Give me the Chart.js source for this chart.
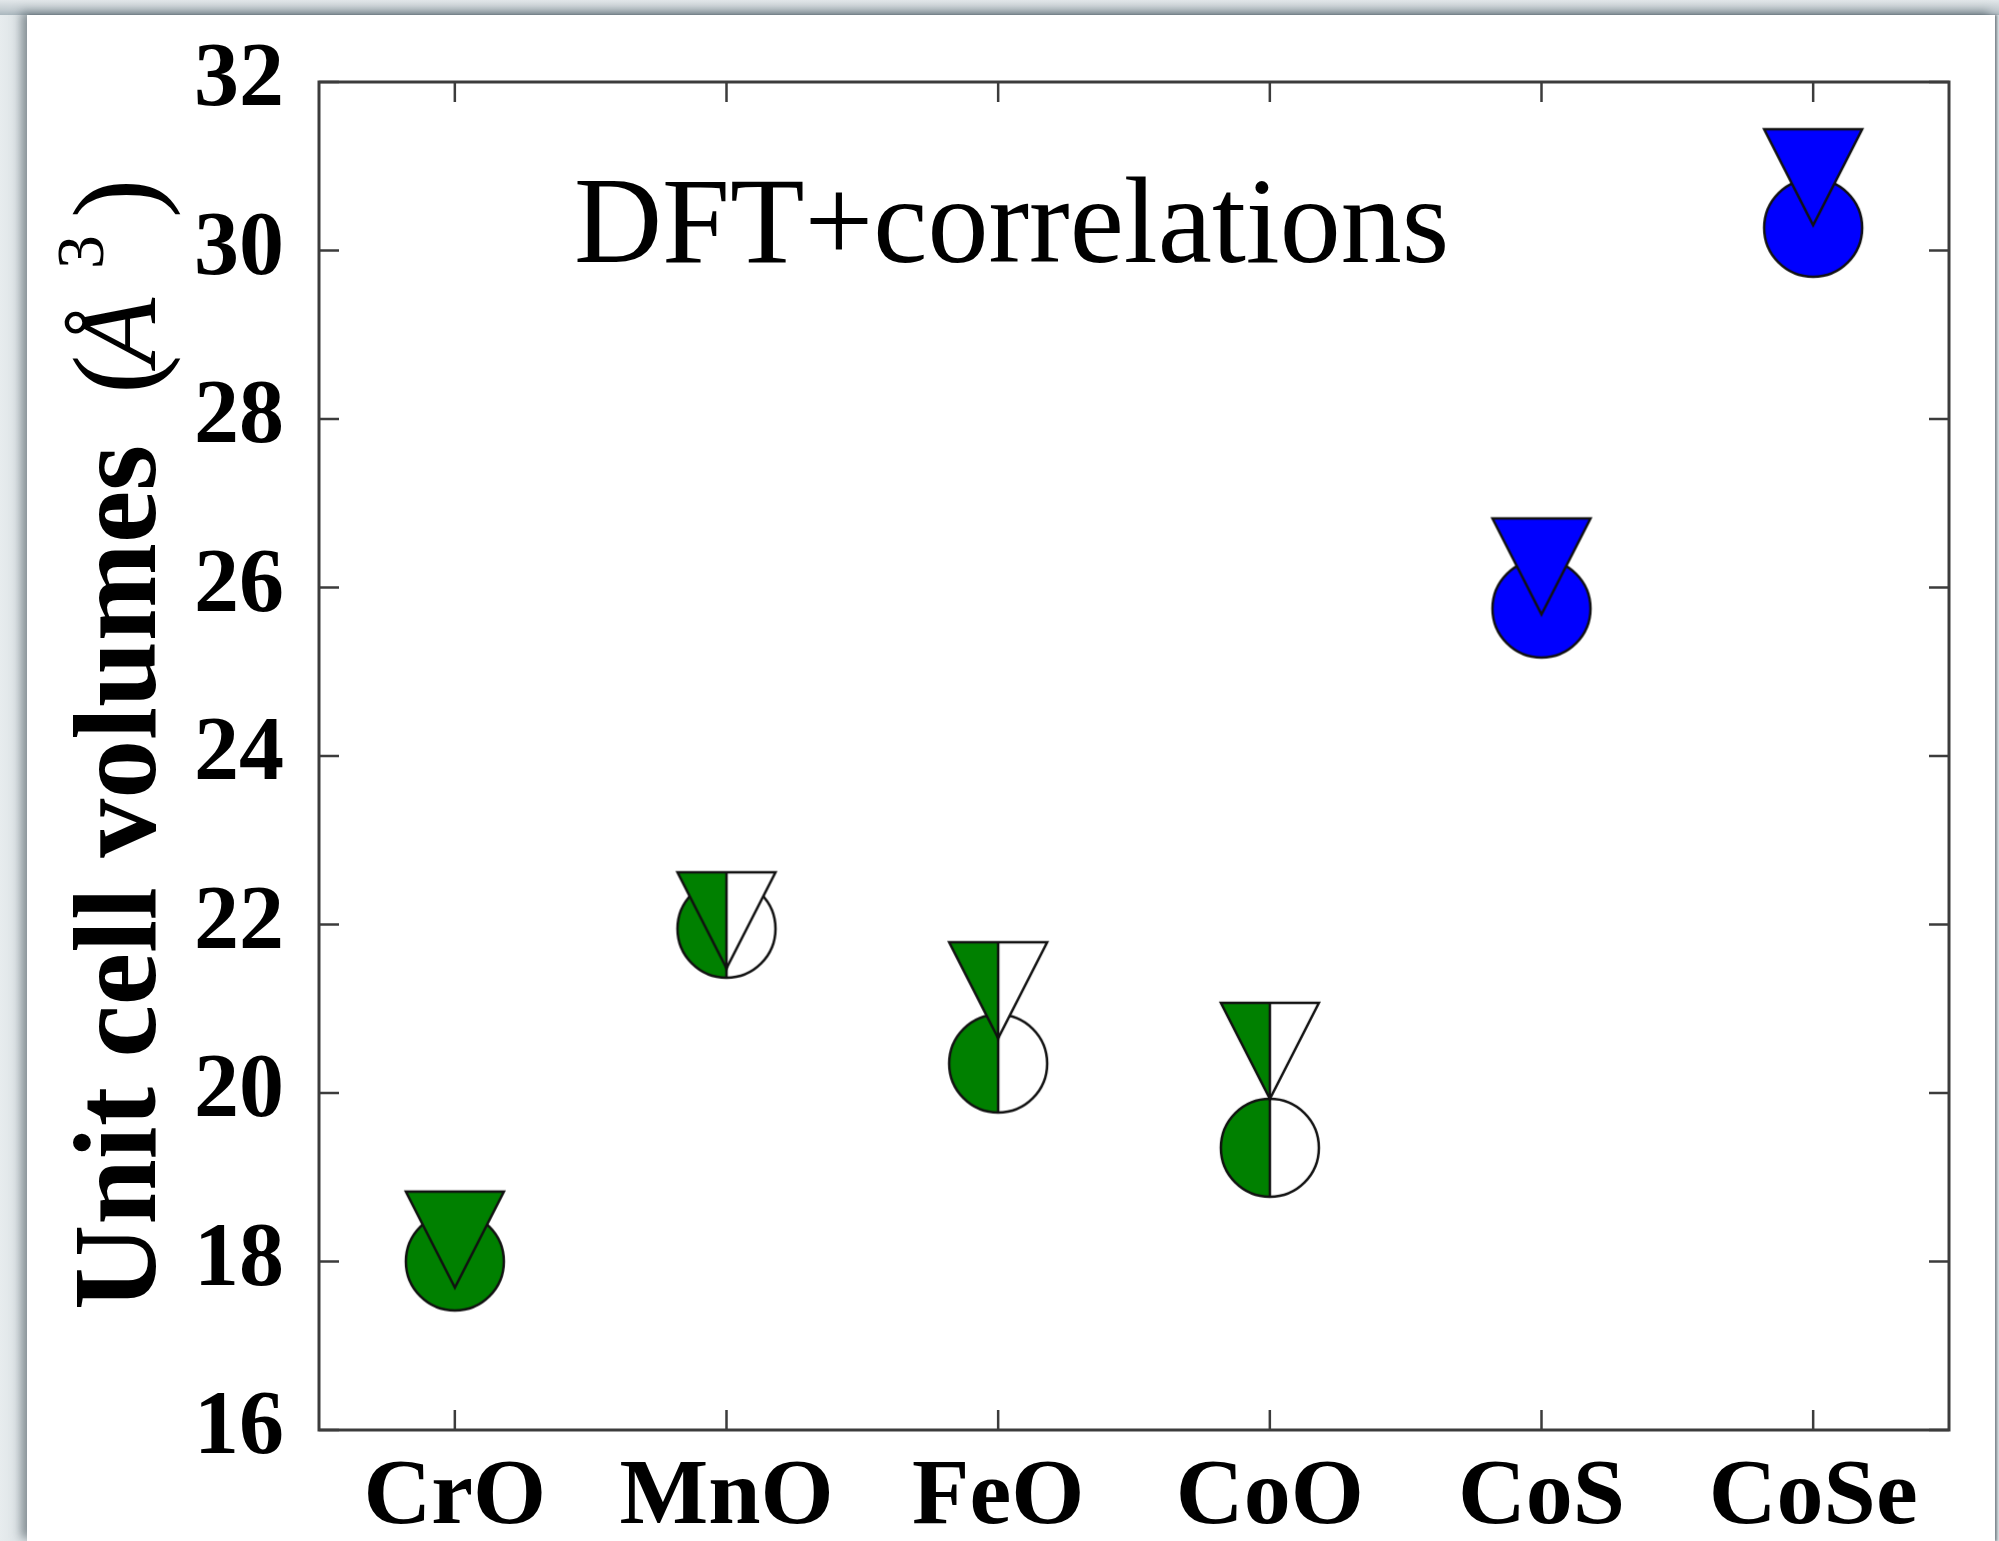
<!DOCTYPE html>
<html>
<head>
<meta charset="utf-8">
<title>Unit cell volumes</title>
<script src="https://cdn.jsdelivr.net/npm/chart.js@4.4.0/dist/chart.umd.min.js"></script>
<style>
  html, body { margin: 0; padding: 0; }
  body {
    width: 1999px; height: 1541px; overflow: hidden; position: relative;
    background:
      linear-gradient(to bottom, #e2e7ea 0px, #c3ccd1 10px, #a9b6bd 15px, rgba(0,0,0,0) 15px),
      linear-gradient(to right, #e7ecee 0px, #d9e0e3 27px, #d9e0e3 100%);
  }
  #sheet {
    position: absolute; left: 27px; top: 15px; width: 1968px; height: 1526px;
    background: #fff;
    box-shadow: -6px -3px 9px rgba(70, 82, 90, 0.55), 2px 0 2px rgba(70, 82, 90, 0.6);
  }
  #chart { position: absolute; left: 0; top: 0; }
</style>
</head>
<body>
<div id="sheet"></div>
<canvas id="chart" width="1999" height="1541"></canvas>
<script>
var categories = ['CrO', 'MnO', 'FeO', 'CoO', 'CoS', 'CoSe'];
var circleVolumes = [18.0, 21.95, 20.35, 19.35, 25.75, 30.27];
var triangleVolumes = [18.26, 22.05, 21.22, 20.5, 26.25, 30.87];
var halfFilled = [false, true, true, true, false, false];
var yTicks = [16, 18, 20, 22, 24, 26, 28, 30, 32];

var fillColors = ['#008000', '#008000', '#008000', '#008000', '#0000ff', '#0000ff'];

// marker drawn once into a small canvas, chart.js places it at the point
function makeMarker(shape, color, half) {
  var size = 106, m = size / 2, r = 49;
  var c = document.createElement('canvas');
  c.width = size; c.height = size;
  var g = c.getContext('2d');
  function outline() {
    g.beginPath();
    if (shape === 'circle') {
      g.arc(m, m, r, 0, Math.PI * 2);
    } else {
      g.moveTo(m - r, m - 48);
      g.lineTo(m + r, m - 48);
      g.lineTo(m, m + 48);
      g.closePath();
    }
  }
  outline();
  g.fillStyle = half ? '#fff' : color;
  g.fill();
  if (half) {
    g.save();
    outline();
    g.clip();
    g.fillStyle = color;
    g.fillRect(0, 0, m, size);
    g.restore();
  }
  g.lineWidth = 2.5;
  g.strokeStyle = '#111';
  outline();
  g.stroke();
  if (half) {
    g.beginPath();
    g.moveTo(m, shape === 'circle' ? m - r : m - 48);
    g.lineTo(m, shape === 'circle' ? m + r : m + 48);
    g.stroke();
  }
  return c;
}

var circleMarkers = [], triangleMarkers = [];
for (var i = 0; i < categories.length; i++) {
  circleMarkers.push(makeMarker('circle', fillColors[i], halfFilled[i]));
  triangleMarkers.push(makeMarker('triangle', fillColors[i], halfFilled[i]));
}

// box around the plot, inward ticks, y title and the inset text
var framePlugin = {
  id: 'frame',
  afterDraw: function (chart) {
    var ctx = chart.ctx, a = chart.chartArea;
    var xs = chart.scales.x, ys = chart.scales.y;
    var tl = 20;
    ctx.save();
    ctx.strokeStyle = '#3c3c3c';
    ctx.lineWidth = 3;
    ctx.strokeRect(a.left, a.top, a.right - a.left, a.bottom - a.top);
    ctx.lineWidth = 2.5;
    ctx.beginPath();
    for (var i = 0; i < xs.ticks.length; i++) {
      var px = xs.getPixelForTick(i);
      ctx.moveTo(px, a.bottom); ctx.lineTo(px, a.bottom - tl);
      ctx.moveTo(px, a.top); ctx.lineTo(px, a.top + tl);
    }
    for (var j = 0; j < ys.ticks.length; j++) {
      var py = ys.getPixelForValue(ys.ticks[j].value);
      ctx.moveTo(a.left, py); ctx.lineTo(a.left + tl, py);
      ctx.moveTo(a.right, py); ctx.lineTo(a.right - tl, py);
    }
    ctx.stroke();

    ctx.fillStyle = '#000';
    ctx.textBaseline = 'alphabetic';
    ctx.textAlign = 'left';
    ctx.font = '122px "Liberation Serif"';
    ctx.fillText('DFT+correlations', 574, 262);

    ctx.translate(a.left - 164, a.bottom - 120);
    ctx.rotate(-Math.PI / 2);
    ctx.font = 'bold 118px "Liberation Serif"';
    ctx.fillText('Unit cell volumes', 0, 0);
    ctx.font = '118px "Liberation Serif"';
    ctx.fillText('(', 916, 0);
    ctx.font = 'italic 110px "Liberation Serif"';
    ctx.fillText('\u00c5', 945, 0);
    ctx.font = '68px "Liberation Serif"';
    ctx.fillText('3', 1041, -52);
    ctx.font = '118px "Liberation Serif"';
    ctx.fillText(')', 1092, 0);
    ctx.restore();
  }
};

var tickFont = { family: 'Liberation Serif', weight: 'bold' };

new Chart(document.getElementById('chart'), {
  type: 'line',
  data: {
    labels: categories,
    datasets: [
      {
        label: 'triangles',
        data: triangleVolumes,
        order: 0,
        showLine: false,
        pointStyle: triangleMarkers,
        pointRadius: 49,
        pointHoverRadius: 49
      },
      {
        label: 'circles',
        data: circleVolumes,
        order: 1,
        showLine: false,
        pointStyle: circleMarkers,
        pointRadius: 49,
        pointHoverRadius: 49
      }
    ]
  },
  options: {
    responsive: false,
    animation: false,
    events: [],
    layout: { padding: { left: 0, top: 82, right: 50, bottom: 0 } },
    plugins: {
      legend: { display: false },
      tooltip: { enabled: false }
    },
    scales: {
      x: {
        type: 'category',
        offset: true,
        grid: { display: false },
        border: { display: false },
        ticks: {
          color: '#000',
          font: Object.assign({ size: 94 }, tickFont),
          padding: 4,
          maxRotation: 0,
          autoSkip: false
        },
        afterFit: function (s) { s.height = 111; }
      },
      y: {
        min: 16,
        max: 32,
        grid: { display: false },
        border: { display: false },
        afterBuildTicks: function (s) {
          s.ticks = yTicks.map(function (v) { return { value: v }; });
        },
        ticks: {
          color: '#000',
          font: Object.assign({ size: 90 }, tickFont),
          padding: 27
        },
        afterFit: function (s) { s.width = 319; }
      }
    }
  },
  plugins: [framePlugin]
});
</script>
</body>
</html>
